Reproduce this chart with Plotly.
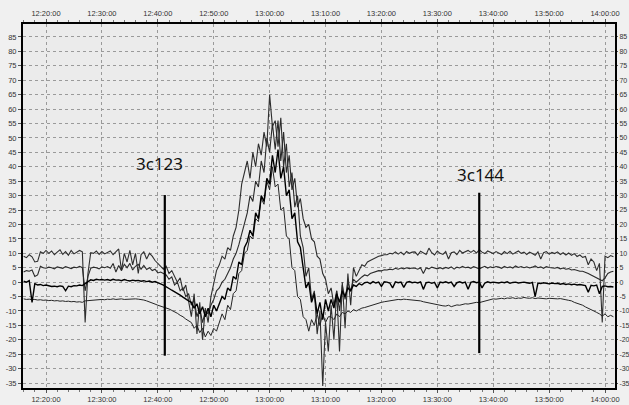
import pandas as pd
import plotly.graph_objects as go

DAY = "2000-01-01 "
START = DAY + "12:16:00"
STEP = "30s"

# ---- data: four drift-scan traces, one value every 30 s from 12:16:00 ----
trace1 = [
    9, 8.5, 9.5, 8.8, 7, 7.2, 10.5, 10, 11, 10,
    10.8, 9.5, 10.4, 11.2, 9.6, 10.6, 9.3, 11, 9.8, 10.5,
    11, 10.5, -14, 3, 10.2, 10, 10.8, 9.6, 10.6, 9.8,
    10.2, 10.8, 9.5, 10.4, 11.5, 4, 10, 7, 11, 6,
    10, 3, 9.5, 10.5, 8, 10, 9, 7.5, 6.5, 5.5,
    4.5, 5.5, 3, 4, 2, 0, 1.5, -3, -1, -6,
    -12, -4, -18, -7, -20, -9, -14, -5, 0, 4,
    6, 9, 8, 12, 11, 16, 19, 25, 34, 38,
    42, 36, 45, 40, 48, 44, 52, 47, 65, 54,
    56, 47, 57, 40, 48, 33, 38, 26, 30, 16,
    12, 2, 5, -6, -3, -18, -10, -36, -14, -24,
    -8, -20, -3, -24, 0, -16, 3, -8, 5, 2,
    4, 6, 5.5, 7, 7.5, 8, 8.5, 9, 9.2, 9.5,
    9.5, 10, 9.8, 10.5, 9.7, 10.4, 9.5, 10.6, 10, 10.4,
    10.5, 9.4, 10.7, 10, 9.6, 11.8, 10.2, 9.4, 10.8, 10,
    9.6, 10.6, 8, 10.2, 10.5, 9.5, 11, 10.1, 10.7, 11,
    10.3, 11, 10.1, 11.2, 10.4, 9.9, 10.8, 10.2, 9.9, 10.6,
    10.2, 9.6, 10.6, 9.9, 10.7, 9.7, 10.3, 10.8, 10, 10.4,
    9.6, 10.4, 9.9, 9.3, 10.5, 8, 10.2, 10.6, 9.7, 10.3,
    9.9, 10.5, 9.6, 10.2, 9.4, 10.1, 9.3, 9.9, 8.9, 9.4,
    8.6, 8.9, 6, 8, 7, 4, 6.5, -14, 9, 8.5,
    9.2, 8.8,
]

trace2 = [
    3.5, 4, 3.8, 4.2, 2, 2.5, 5.5, 5, 4.8, 5.2,
    5, 4.6, 5.3, 5, 4.8, 5.4, 5.1, 4.7, 5.2, 5,
    5.5, 5, -3, 2, 4.8, 5.2, 5, 4.6, 5.3, 5,
    5.4, 4.8, 6.5, 3.5, 5.8, 4, 6.2, 5, 6.5, 4.2,
    5.5, 6.2, 4.5, 5.8, 4.4, 5, 4, 4.5, 3.2, 3.5,
    3, 2.5, 1, 1.8, -1, 0, -3, -2, -5, -4,
    -8, -6, -12, -9, -14, -10, -11, -8, -6, -3,
    -2, 0, 1, 3, 5, 8, 10, 13, 17, 20,
    24, 30, 28, 35, 33, 42, 38, 50, 45, 55,
    46, 56, 42, 52, 38, 44, 32, 36, 26, 29,
    22, 19, 20, 15, 14, 9, 8, 3, 1, -4,
    -2, -8, -3, -10, -1, -6, 0, -3, 1, 0,
    1, 1.8, 2.5, 2.2, 3, 3.3, 3.6, 4, 3.9, 4.3,
    4.2, 4.5, 4.3, 4.8, 4.5, 4.9, 4.6, 5, 4.7, 4.9,
    4.8, 4.5, 5, 3, 4.9, 4.6, 5.2, 4.8, 4.6, 5,
    4.6, 5.1, 4.8, 5.3, 4.5, 5.2, 4.9, 5.5, 5, 5.2,
    4.8, 5.4, 5, 4.6, 5.1, 5.5, 4.9, 5.3, 5, 5.4,
    5.2, 4.8, 5.5, 5, 5.3, 4.9, 5.6, 5.1, 5.4, 5,
    5.3, 4.9, 5.2, 5.6, 5, 5.3, 4.8, 5.4, 5.1, 5,
    4.8, 5.1, 4.6, 4.9, 4.5, 4.7, 4.2, 4.4, 4, 3.8,
    3.8, 3.5, 3, 2.5, 2, 1.5, 1, 0.5, 1.5, 3,
    3.5, 3.8,
]

trace3 = [
    0.3, 0, 0.5, -7, -0.5, -1, -0.8, -1.2, -1, -1.3,
    -1.5, -1.4, -1.6, -1.3, -1.5, -3, -1.4, -1.6, -1.2, -1.3,
    -1, -1.2, -0.5, 0.3, 0.8, 0.6, 1, 0.8, 0.9, 0.7,
    0.9, 0.6, 1, 0.7, 0.8, 0.5, 0.9, 0.6, 0.4, 0.7,
    0.5, 0.6, 0.3, 0.5, 0.2, 0.4, 0, 0.2, -0.3, -0.6,
    -1, -1.5, -2.2, -2.8, -3.3, -4, -4.5, -5.2, -6, -6.5,
    -7, -9, -7.5, -11, -8.5, -12, -9, -12, -8, -10,
    -7.5, -5, -6, -2, -3, 2, 1, 7, 6, 12,
    14, 18, 16, 24, 22, 30, 28, 36, 34, 44,
    38, 46, 36, 40, 30, 32, 22, 24, 14, 12,
    5, -2, 0, -7, -4, -11, -7, -13, -6, -10,
    -6, -9, -4, -7, -3, -5, -2, -3, -1, -1.5,
    -0.5, -1, -0.2, 0, -0.5, 0.2, -0.3, 0, -1.5, 0.1,
    0, -0.3, -2, 0.1, -0.2, 0, -1.8, -0.1, 0.2, -0.2,
    0, -0.3, 0.1, -2.5, -0.2, 0, -0.4, -0.1, -2, 0,
    -0.2, 0.1, -0.3, 0, -1.5, -0.2, 0.1, -0.3, 0, -2.5,
    -0.1, 0.2, -0.2, 0, -2, -0.3, 0.1, -0.2, 0, -0.1,
    -0.3, 0, -0.2, 0.1, -0.4, -0.1, 0, -0.3, -0.2, 0,
    -0.2, -0.4, -0.1, -5, -0.3, -0.5, -0.2, -0.4, -0.6, -0.3,
    -0.5, -0.4, -0.7, -0.5, -0.8, -0.6, -0.9, -0.7, -1, -0.8,
    -1, -1.2, -3.5, -1.1, -1.3, -1, -4, -1.5, -1.3, -1.6,
    -1.5, -1.7,
]

trace4 = [
    -5.8, -6, -5.9, -6.1, -6, -6.2, -6.1, -6.3, -6.2, -6.4,
    -6.3, -6.5, -6.4, -6.6, -6.5, -6.7, -6.6, -6.8, -6.7, -6.9,
    -6.8, -7, -6.5, -6.4, -6.3, -6.2, -6.1, -6.2, -6, -6.1,
    -5.9, -6, -5.8, -6, -5.9, -5.8, -6, -5.9, -5.8, -5.9,
    -5.8, -5.9, -6, -6.2, -6.5, -6.8, -7.2, -7.6, -8, -8.3,
    -8.6, -9, -9.3, -9.8, -10.2, -10.8, -11.5, -12, -12.8, -13.5,
    -14, -16, -15, -17.5, -16, -19, -17, -18.5, -16, -17,
    -14, -11, -13, -8, -9.5, -4, -3, 3, 4, 10,
    11, 16, 15, 22, 21, 29, 27, 35, 32, 40,
    33, 34, 25, 26, 16, 15, 5, 4, -5, -6,
    -12, -13, -17, -13, -15, -11, -15, -11, -14, -12,
    -12, -13, -11, -12, -10.5, -11, -10, -10.5, -9.5, -10,
    -9.5, -9, -8.8, -8.5, -8, -7.8, -7.5, -7.3, -7, -6.8,
    -6.6, -6.5, -6.3, -6.2, -6, -6.1, -5.9, -6, -6.1, -6.2,
    -6.2, -6.3, -6.5, -6.8, -7, -7.2, -7.5, -7.7, -8, -8,
    -8.2, -8.3, -8, -8.5, -8.2, -7.9, -8, -7.8, -7.5, -7.6,
    -7.4, -7.3, -7, -7.1, -6.8, -6.5, -6.2, -6, -5.8, -5.9,
    -5.7, -5.6, -5.8, -5.5, -5.6, -5.4, -5.7, -5.5, -5.6, -5.3,
    -5.5, -5.6, -5.4, -5.7, -5.5, -5.6, -5.5, -5.8, -5.6, -5.7,
    -5.6, -5.8, -5.7, -6, -6.1, -6.3, -6.5, -7, -7.3, -7.8,
    -8, -8.6, -9, -9.5, -10, -10.5, -11, -11.8, -11, -12,
    -11.5, -12,
]

# y tick values (labels use a plain hyphen as in the original)
y_ticks = [-35, -30, -25, -20, -15, -10, -5, 0, 5, 10, 15, 20, 25,
           30, 35, 40, 45, 50, 55, 60, 65, 70, 75, 80, 85]
y_tick_labels = [str(v) for v in y_ticks]

# source markers
marker_names = ["3c123", "3c144"]
marker_times = [DAY + "12:41:15", DAY + "13:37:30"]
marker_top = [30.2, 31]
marker_bottom = [-25.5, -24.6]
label_times = [DAY + "12:40:18", DAY + "13:37:45"]
label_values = [41, 37.4]

x_range = [DAY + "12:15:53", DAY + "14:01:47"]
y_range = [-36.7, 89.5]

times = pd.date_range(START, periods=len(trace1), freq=STEP)

fig = go.Figure()
styles = [
    (trace1, "#2e2e2e", 1.1),
    (trace2, "#2a2a2a", 1.1),
    (trace4, "#252525", 1.0),
    (trace3, "#000000", 1.4),
]
for vals, col, w in styles:
    fig.add_trace(go.Scatter(x=times, y=vals, mode="lines",
                             line=dict(color=col, width=w),
                             showlegend=False, hoverinfo="skip"))

for t, top, bot in zip(marker_times, marker_top, marker_bottom):
    fig.add_trace(go.Scatter(x=[t, t], y=[bot, top], mode="lines",
                             line=dict(color="#000000", width=2.2),
                             showlegend=False, hoverinfo="skip"))

# invisible trace to activate the mirrored top/right axes
fig.add_trace(go.Scatter(x=x_range, y=[None, None], xaxis="x2", yaxis="y2",
                         mode="lines", showlegend=False, hoverinfo="skip"))

for name, t, v in zip(marker_names, label_times, label_values):
    fig.add_annotation(x=t, y=v, text=name, showarrow=False,
                       font=dict(family="Noto Sans", size=17, color="#111111"))

tickfont = dict(family="Liberation Sans", size=7.5, color="#333333")
xcommon = dict(type="date", range=x_range, tickformat="%H:%M:%S",
               tick0=DAY + "12:20:00", dtick=600000, automargin=False,
               showline=True, linecolor="#000000", linewidth=2,
               ticks="outside", ticklen=3, tickcolor="#555555",
               tickfont=tickfont, zeroline=False,
               minor=dict(dtick=120000, tick0=DAY + "12:20:00",
                          ticks="outside", ticklen=2, tickcolor="#777777",
                          showgrid=False))
ycommon = dict(range=y_range, tickmode="array", tickvals=y_ticks,
               ticktext=y_tick_labels, automargin=False,
               showline=True, linecolor="#000000", linewidth=2,
               ticks="outside", tickcolor="#555555", zeroline=False)

fig.update_layout(
    width=629, height=405,
    margin=dict(l=23, r=14, t=24, b=17, autoexpand=False),
    paper_bgcolor="#f0f0f0",
    plot_bgcolor="#ebebeb",
    xaxis=dict(**xcommon, showgrid=True, gridcolor="#9a9a9a",
               griddash="dot", gridwidth=1),
    xaxis2=dict(**xcommon, overlaying="x", side="top", showgrid=False),
    yaxis=dict(**ycommon, ticklen=3, tickfont=tickfont, showgrid=True,
               gridcolor="#9a9a9a", griddash="dot", gridwidth=1),
    yaxis2=dict(**ycommon, ticklen=1, overlaying="y", side="right",
                tickfont=dict(family="Liberation Sans", size=7,
                              color="#333333"),
                showgrid=False),
)

fig.write_html("out.html")
